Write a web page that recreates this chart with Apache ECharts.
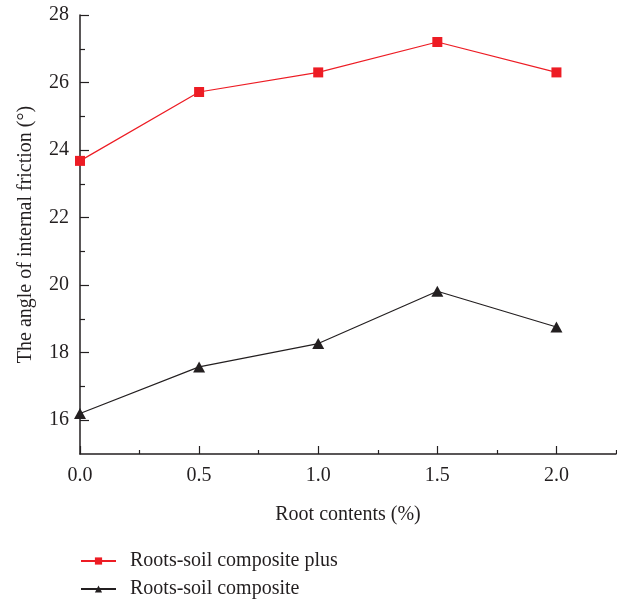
<!DOCTYPE html>
<html><head><meta charset="utf-8">
<script src="https://cdn.jsdelivr.net/npm/echarts@6/dist/echarts.min.js"></script>
<style>html,body{margin:0;padding:0;background:#fff}#c{width:617px;height:601px}</style>
</head><body><div id="c"></div>
<script>
const xValues = [0, 0.5, 1.0, 1.5, 2.0];
const plusValues = [23.68, 25.72, 26.3, 27.2, 26.3];
const compositeValues = [16.2, 17.58, 18.27, 19.82, 18.76];
const yMajorTicks = [16, 18, 20, 22, 24, 26, 28];
const yMinorTicks = [17, 19, 21, 23, 25, 27];
const xMajorTicks = [0, 0.5, 1.0, 1.5, 2.0];
const xMinorTicks = [0.25, 0.75, 1.25, 1.75, 2.25];
const seriesNames = ['Roots-soil composite plus', 'Roots-soil composite'];

const font = 'Liberation Serif';
const fs = 20;
const ink = '#231f20';
const red = '#ed1c24';
const chart = echarts.init(document.getElementById('c'));
const axisLine = {show: true, lineStyle: {color: ink, width: 1.5}};
chart.setOption({
  animation: false,
  grid: {left: 80, right: 1, top: 15, bottom: 147, containLabel: false},
  legend: {
    orient: 'vertical', left: 80, top: 551, padding: 0, itemWidth: 35, itemHeight: 9, itemGap: 8,
    textStyle: {fontFamily: font, fontSize: fs, color: ink, padding: [0, 0, 0, 9]},
    data: seriesNames
  },
  xAxis: [{
    type: 'value', min: 0, max: 2.25,
    axisLine: axisLine,
    axisTick: {show: true, inside: true, length: 8, customValues: xMajorTicks, lineStyle: {color: ink, width: 1.2}},
    axisLabel: {customValues: xMajorTicks, formatter: v => v.toFixed(1), fontFamily: font, fontSize: fs, color: ink, margin: 12},
    splitLine: {show: false},
    name: 'Root contents (%)', nameLocation: 'middle', nameGap: 51,
    nameTextStyle: {fontFamily: font, fontSize: fs, color: ink}
  }, {
    type: 'value', min: 0, max: 2.25, position: 'bottom',
    axisLine: {show: false},
    axisTick: {show: true, inside: true, length: 4, customValues: xMinorTicks, lineStyle: {color: ink, width: 1.2}},
    axisLabel: {show: false}, splitLine: {show: false}
  }],
  yAxis: [{
    type: 'value', min: 15, max: 28,
    axisLine: axisLine,
    axisTick: {show: true, inside: true, length: 9, customValues: yMajorTicks, lineStyle: {color: ink, width: 1.2}},
    axisLabel: {customValues: yMajorTicks, fontFamily: font, fontSize: fs, color: ink, margin: 11},
    splitLine: {show: false},
    name: 'The angle of internal friction (°)', nameLocation: 'middle', nameGap: 44,
    nameTextStyle: {fontFamily: font, fontSize: fs, color: ink}
  }, {
    type: 'value', min: 15, max: 28, position: 'left',
    axisLine: {show: false},
    axisTick: {show: true, inside: true, length: 5, customValues: yMinorTicks, lineStyle: {color: ink, width: 1.2}},
    axisLabel: {show: false}, splitLine: {show: false}
  }],
  series: [{
    name: seriesNames[0], type: 'line',
    data: xValues.map((x, i) => [x, plusValues[i]]),
    symbol: 'rect', symbolSize: 10,
    itemStyle: {color: red}, lineStyle: {color: red, width: 1.2}
  }, {
    name: seriesNames[1], type: 'line',
    data: xValues.map((x, i) => [x, compositeValues[i]]),
    symbol: 'triangle', symbolSize: [12, 11],
    itemStyle: {color: ink}, lineStyle: {color: ink, width: 1.2}
  }]
});
</script></body></html>
